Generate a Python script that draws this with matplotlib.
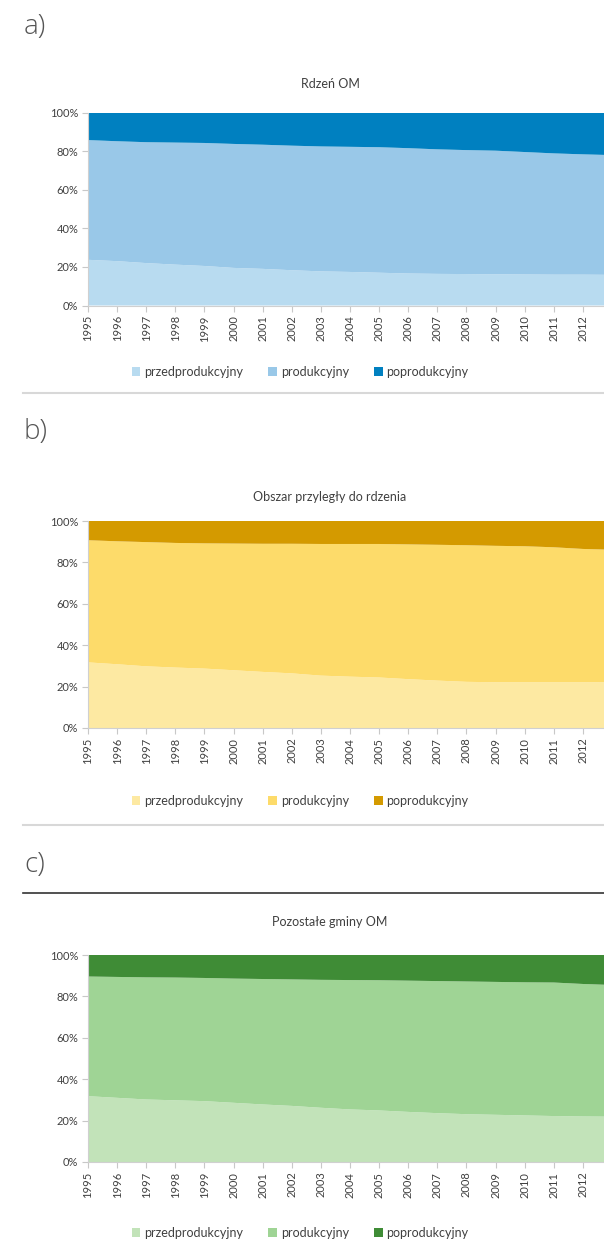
import matplotlib.pyplot as plt
from matplotlib.patches import Patch
from matplotlib.lines import Line2D

# Years on the x axis
lata = list(range(1995, 2014))

# Rdzeń OM - udział grup wieku (%)
rdzen_przed = [23.7, 23.0, 22.0, 21.2, 20.5, 19.5, 19.0, 18.3, 17.7, 17.4,
               17.0, 16.6, 16.4, 16.3, 16.2, 16.1, 16.0, 16.0, 15.9]
rdzen_prod = [62.1, 62.2, 62.7, 63.3, 63.8, 64.3, 64.4, 64.6, 64.8, 64.9,
              65.1, 65.0, 64.6, 64.3, 64.1, 63.5, 62.9, 62.4, 62.1]
rdzen_popr = [14.2, 14.8, 15.3, 15.5, 15.7, 16.2, 16.6, 17.1, 17.5, 17.7,
              17.9, 18.4, 19.0, 19.4, 19.7, 20.4, 21.1, 21.6, 22.0]

# Obszar przyległy do rdzenia (%)
przyl_przed = [31.7, 30.8, 29.8, 29.2, 28.7, 27.9, 27.1, 26.4, 25.3, 24.8,
               24.4, 23.6, 22.9, 22.3, 22.1, 22.1, 22.1, 22.1, 22.2]
przyl_prod = [59.0, 59.4, 60.0, 60.2, 60.5, 61.2, 61.9, 62.6, 63.6, 64.1,
              64.5, 65.1, 65.6, 66.0, 65.9, 65.7, 65.2, 64.4, 63.9]
przyl_popr = [9.3, 9.8, 10.2, 10.6, 10.8, 10.9, 11.0, 11.0, 11.1, 11.1,
              11.1, 11.3, 11.5, 11.7, 12.0, 12.2, 12.7, 13.5, 13.9]

# Pozostałe gminy OM (%)
pozost_przed = [31.8, 31.0, 30.2, 29.8, 29.4, 28.6, 27.8, 27.1, 26.2, 25.4,
                24.9, 24.2, 23.6, 23.1, 22.8, 22.5, 22.2, 22.0, 21.9]
pozost_prod = [57.8, 58.4, 59.0, 59.3, 59.5, 60.0, 60.6, 61.1, 61.8, 62.5,
               62.9, 63.4, 63.8, 64.1, 64.2, 64.3, 64.5, 64.0, 63.6]
pozost_popr = [10.4, 10.6, 10.8, 10.9, 11.1, 11.4, 11.6, 11.8, 12.0, 12.1,
               12.2, 12.4, 12.6, 12.8, 13.0, 13.2, 13.3, 14.0, 14.5]

grupy = ['przedprodukcyjny', 'produkcyjny', 'poprodukcyjny']
procenty = [0, 20, 40, 60, 80, 100]
# 2013 sits past the right edge of the page, so it gets no label
etykiety_lat = [str(r) for r in lata[:-1]] + ['']

plt.rcParams['font.family'] = ['Lato', 'DejaVu Sans']
TXT = '#404040'

W, H = 604, 1243
fig = plt.figure(figsize=(W / 100, H / 100), dpi=100)


def fx(px):
    return px / W


def fy(px):
    return 1 - px / H


def panel(litera, y_litera, tytul, y_tytul, top, bottom, y_leg, serie, kolory):
    fig.text(fx(24), fy(y_litera), litera, fontsize=20, color='#555555',
             va='center', ha='left', family=['Open Sans', 'DejaVu Sans'],
             fontweight='light')
    fig.text(fx(330), fy(y_tytul), tytul, fontsize=9, color=TXT,
             ha='center', va='center')

    ax = fig.add_axes([fx(88), fy(bottom), fx(612) - fx(88),
                       fy(top) - fy(bottom)])
    ax.stackplot(lata, *serie, colors=kolory, linewidth=0)
    ax.set_xlim(1995, 2013)
    ax.set_ylim(0, 100)
    ax.set_xticks(lata)
    ax.set_xticklabels(etykiety_lat, rotation=90, fontsize=8, color=TXT)
    ax.set_yticks(procenty)
    ax.set_yticklabels([f'{p}%' for p in procenty], fontsize=8, color=TXT)
    ax.tick_params(length=4, width=0.8, color='#c8c8c8', pad=3)
    for s in ['top', 'right']:
        ax.spines[s].set_visible(False)
    for s in ['left', 'bottom']:
        ax.spines[s].set_color('#d0d0d0')
        ax.spines[s].set_linewidth(0.8)

    uchwyty = [Patch(facecolor=k, edgecolor='none') for k in kolory]
    fig.legend(uchwyty, grupy, loc='center', ncol=3, frameon=False,
               bbox_to_anchor=(fx(300), fy(y_leg)), fontsize=9,
               handlelength=0.7, handleheight=0.7, handletextpad=0.3,
               columnspacing=2.0, labelcolor=TXT)


panel('a)', 27, 'Rdzeń OM', 84, 112.7, 305.5, 372,
      [rdzen_przed, rdzen_prod, rdzen_popr],
      ['#b8dbf0', '#99c8e8', '#0080c0'])
panel('b)', 432, 'Obszar przyległy do rdzenia', 497, 521, 728, 801,
      [przyl_przed, przyl_prod, przyl_popr],
      ['#fde9a2', '#fddb6a', '#d49a00'])
panel('c)', 865, 'Pozostałe gminy OM', 922, 955, 1162, 1233,
      [pozost_przed, pozost_prod, pozost_popr],
      ['#c2e3b9', '#9fd495', '#3f8c36'])

# separator lines between panels
fig.add_artist(Line2D([fx(23), 1], [fy(393), fy(393)], color='#d8d8d8', lw=1.5))
fig.add_artist(Line2D([fx(23), 1], [fy(825), fy(825)], color='#d8d8d8', lw=1.5))
fig.add_artist(Line2D([fx(23), 1], [fy(893), fy(893)], color='#333333', lw=1.2))

fig.savefig('out.png', dpi=100)
